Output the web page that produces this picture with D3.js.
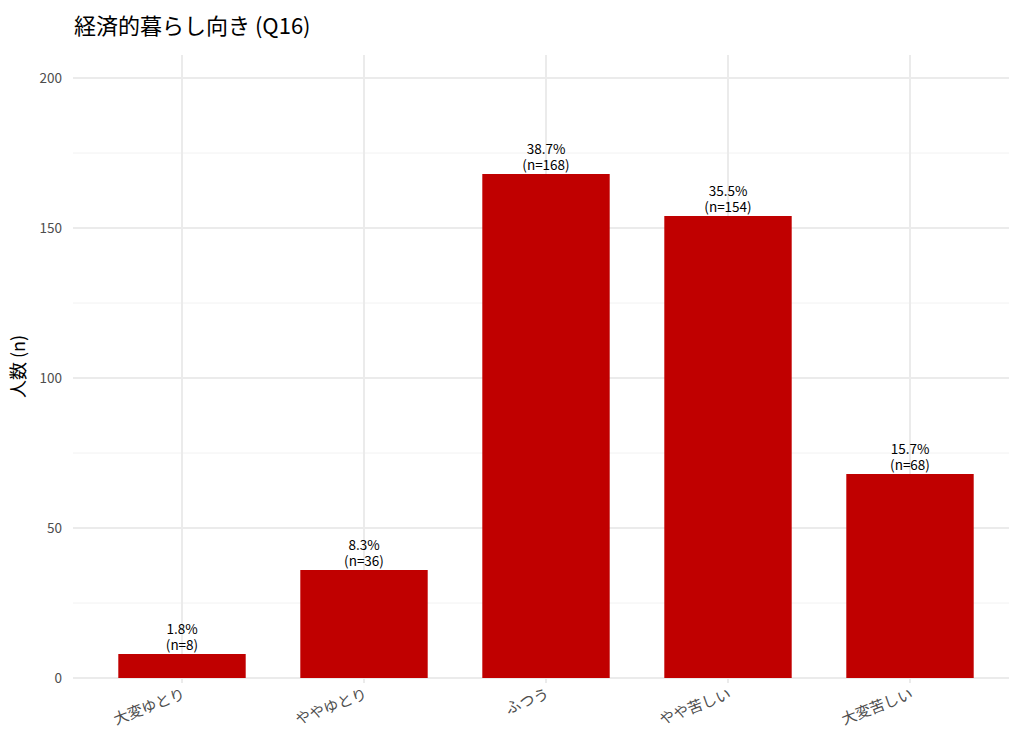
<!DOCTYPE html>
<html>
<head>
<meta charset="utf-8">
<script src="https://cdn.jsdelivr.net/npm/d3@7"></script>
<style>
  body { margin: 0; background: #fff; }
  svg { display: block; font-family: "Noto Sans CJK JP", "Noto Sans", sans-serif; }
</style>
</head>
<body>
<svg id="chart" width="1009" height="729"></svg>
<script>
const categories = ['大変ゆとり', 'ややゆとり', 'ふつう', 'やや苦しい', '大変苦しい'];
const counts = [8, 36, 168, 154, 68];
const percents = ['1.8%', '8.3%', '38.7%', '35.5%', '15.7%'];
const yTicks = [0, 50, 100, 150, 200];
const yMinor = [25, 75, 125, 175];

const svg = d3.select('#chart');
const W = 1009;

// discrete axis with ggplot-like 0.6 expansion
const x = d3.scalePoint()
  .domain(categories)
  .range([72.8, 1019.2])
  .padding(0.6);
const barW = x.step() * 0.7;

const y = d3.scaleLinear().domain([0, 200]).range([678, 78]);

const panelL = 73, panelR = W;

// grid
const grid = svg.append('g');
grid.selectAll('line.minor').data(yMinor).join('line')
  .attr('x1', panelL).attr('x2', panelR)
  .attr('y1', d => y(d)).attr('y2', d => y(d))
  .attr('stroke', '#f2f2f2').attr('stroke-width', 1);
grid.selectAll('line.major').data(yTicks).join('line')
  .attr('x1', panelL).attr('x2', panelR)
  .attr('y1', d => y(d)).attr('y2', d => y(d))
  .attr('stroke', '#ebebeb').attr('stroke-width', 2);
grid.selectAll('line.vx').data(categories).join('line')
  .attr('x1', d => x(d)).attr('x2', d => x(d))
  .attr('y1', 55).attr('y2', 683)
  .attr('stroke', '#ebebeb').attr('stroke-width', 2);

// bars
svg.append('g').selectAll('rect').data(categories).join('rect')
  .attr('x', d => x(d) - barW / 2)
  .attr('width', barW)
  .attr('y', (d, i) => y(counts[i]))
  .attr('height', (d, i) => y(0) - y(counts[i]))
  .attr('fill', '#C00000');

// bar labels (two lines)
const lab = svg.append('g').attr('font-size', 13.5).attr('fill', '#000').attr('text-anchor', 'middle');
categories.forEach((c, i) => {
  lab.append('text').attr('x', x(c)).attr('y', y(counts[i]) - 20).text(percents[i]);
  lab.append('text').attr('x', x(c)).attr('y', y(counts[i]) - 4).text(`(n=${counts[i]})`);
});

// y axis labels
svg.append('g').selectAll('text').data(yTicks).join('text')
  .attr('x', 62).attr('y', d => y(d)).attr('dy', '0.35em')
  .attr('text-anchor', 'end').attr('font-size', 13.5).attr('fill', '#4d4d4d')
  .text(d => d);

// x axis labels, rotated
svg.append('g').selectAll('text').data(categories).join('text')
  .attr('text-anchor', 'end').attr('font-size', 15).attr('fill', '#4d4d4d')
  .attr('transform', d => `translate(${x(d) + 4},${698}) rotate(-21)`)
  .text(d => d);

// y axis title
svg.append('text')
  .attr('transform', `translate(25,${(y(0) + 55) / 2}) rotate(-90)`)
  .attr('text-anchor', 'middle').attr('font-size', 18).attr('fill', '#000')
  .text('人数 (n)');

// title
svg.append('text')
  .attr('x', 74).attr('y', 34)
  .attr('font-size', 22).attr('fill', '#000')
  .text('経済的暮らし向き (Q16)');
</script>
</body>
</html>
